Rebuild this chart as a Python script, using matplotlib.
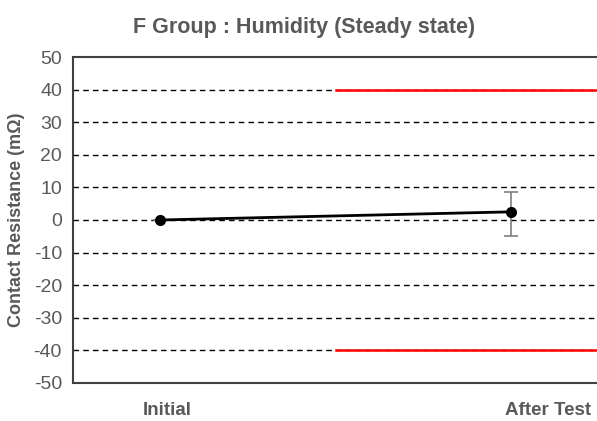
import matplotlib
matplotlib.use("Agg")
import matplotlib.pyplot as plt

plt.rcParams['font.family'] = ['Liberation Sans', 'DejaVu Sans']
plt.rcParams['axes.unicode_minus'] = False

# ── data ────────────────────────────────────
stages      = ["Initial", "After Test"]
stage_x     = [0, 1]
mean_cr     = [0.0, 2.5]      # mΩ change
err_low     = [0.0, 7.5]
err_high    = [0.0, 6.0]
spec_x      = [0.5, 1.5]
spec_upper  = [40, 40]
spec_lower  = [-40, -40]
yticks      = list(range(-50, 51, 10))
label_pos   = [0.02, 1.105]    # where the category labels sit

GREY = "#595959"

fig = plt.figure(figsize=(5.97, 4.21), dpi=100)
ax = fig.add_axes([0.1223, 0.0903, 0.8777, 0.7743])

# dashed grid lines (inner ones only)
for y in yticks[1:-1]:
    ax.axhline(y, color="black", lw=1.0, ls=(0, (4, 3)), zorder=1)

# spec limits
ax.plot(spec_x, spec_upper, color="#FF0000", lw=1.8, zorder=2)
ax.plot(spec_x, spec_lower, color="#FF0000", lw=1.8, zorder=2)

# mean with min/max bars
ax.errorbar(stage_x, mean_cr, yerr=[err_low, err_high], fmt="none",
            ecolor="#7F7F7F", elinewidth=1.2, capsize=5, capthick=1.2, zorder=3)
ax.plot(stage_x, mean_cr, color="black", lw=2, marker="o", ms=7, zorder=4)

ax.set_xlim(-0.248, 1.245)
ax.set_ylim(-50, 50)
ax.set_yticks(yticks)
ax.set_xticks(label_pos)
ax.set_xticklabels(stages, fontsize=13.5, fontweight="bold", color=GREY)
ax.tick_params(axis="both", length=0)
ax.tick_params(axis="x", pad=14)
ax.tick_params(axis="y", pad=8, labelsize=14, labelcolor=GREY)

for side in ("left", "bottom", "top"):
    ax.spines[side].set_color("#404040")
    ax.spines[side].set_linewidth(1.5)
ax.spines["right"].set_visible(False)

ax.set_ylabel("Contact Resistance (mΩ)", fontsize=13, fontweight="bold",
              color=GREY, labelpad=6)
fig.text(0.51, 0.935, "F Group : Humidity (Steady state)", ha="center", va="center",
         fontsize=15.5, fontweight="bold", color=GREY)

plt.savefig("out.png", dpi=100)
